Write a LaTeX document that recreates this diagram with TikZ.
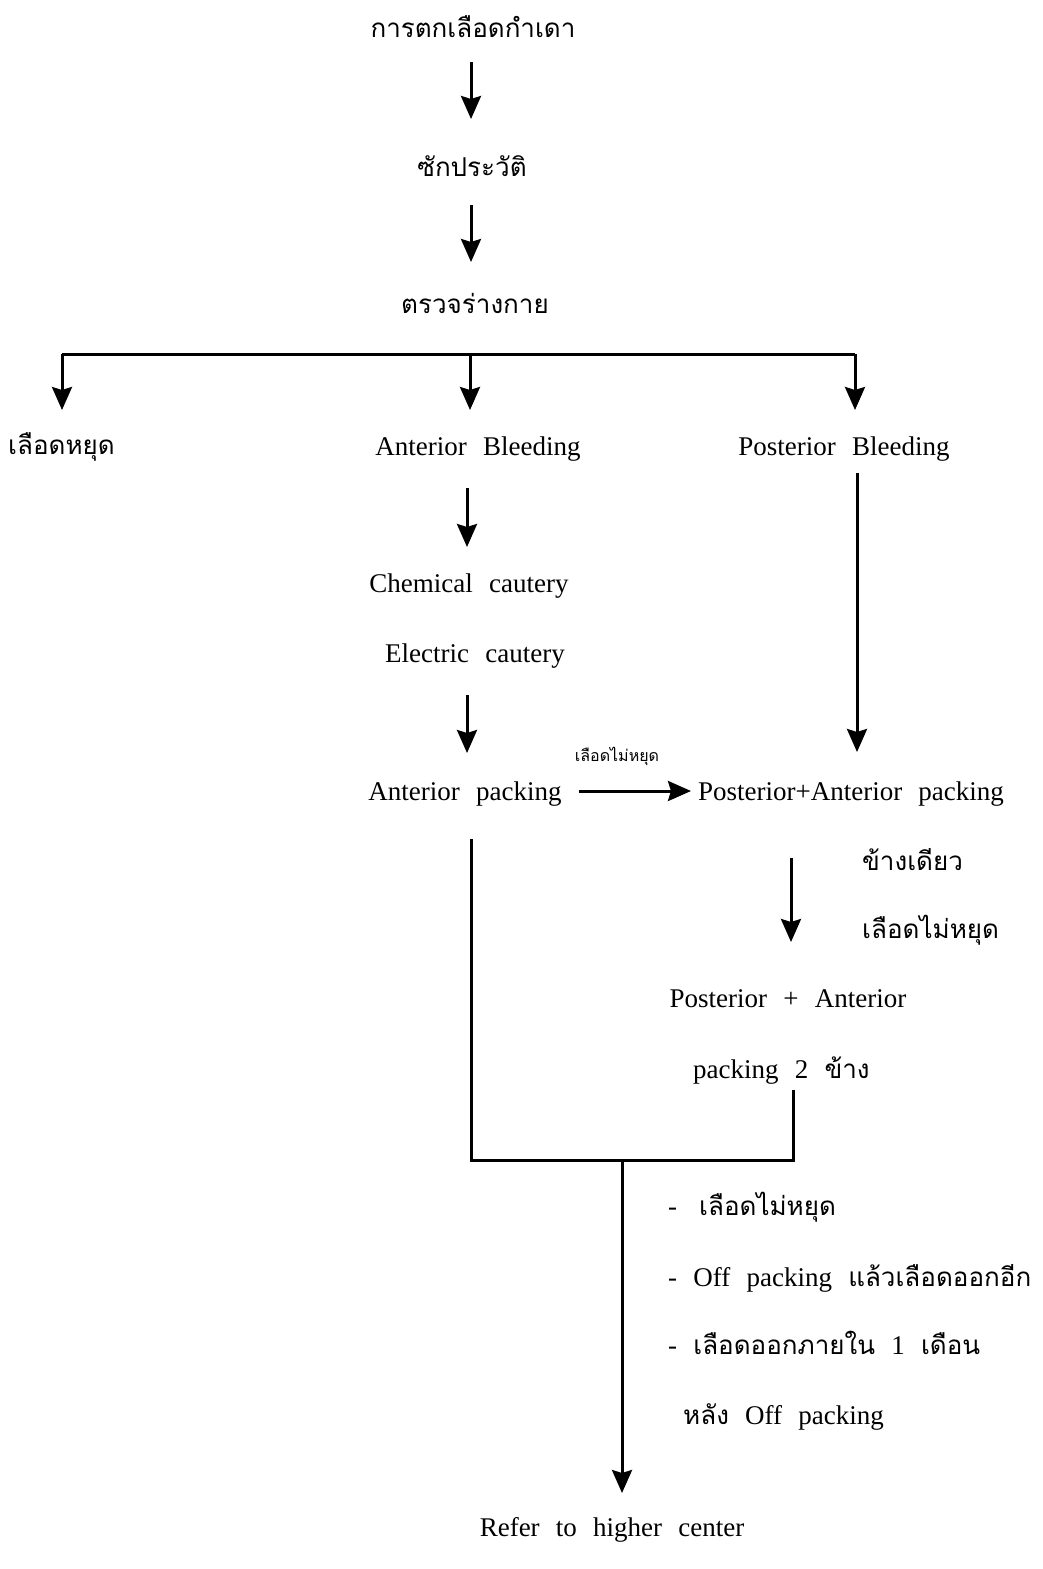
\documentclass[tikz,border=0pt]{standalone}
\usepackage{fontspec}
\setmainfont{Liberation Serif}[WordSpace=2.4]
\newfontfamily\thaifont[Script=Thai]{Loma}
\usetikzlibrary{arrows.meta}
\newcommand\thx[1]{{\thaifont\fontsize{26}{32}\selectfont #1}}
\tikzset{
  lat/.style={inner sep=0pt, font=\fontsize{27}{32}\selectfont},
  th/.style={inner sep=0pt, font=\thaifont\fontsize{26}{32}\selectfont},
  thsmall/.style={inner sep=0pt, font=\thaifont\fontsize{16}{20}\selectfont},
  ln/.style={line width=3pt},
  arr/.style={line width=3pt, -{Stealth[length=23pt,width=20pt,inset=3pt]}},
}
\begin{document}
\begin{tikzpicture}[x=1pt,y=-1pt]
\useasboundingbox (0,0) rectangle (1042,1569);
% text nodes
\node[th, anchor=base] (t1) at (473,37) {การตกเลือดกำเดา};
\node[th, anchor=base] (t2) at (472,176) {ซักประวัติ};
\node[th, anchor=base] (t3) at (475,313) {ตรวจร่างกาย};
\node[th, anchor=base west] (stop) at (8,454) {เลือดหยุด};
\node[lat, anchor=base] (ab) at (478,455) {Anterior Bleeding};
\node[lat, anchor=base] (pb) at (844,455) {Posterior Bleeding};
\node[lat, anchor=base] (cc) at (469,592) {Chemical cautery};
\node[lat, anchor=base] (ec) at (475,662) {Electric cautery};
\node[lat, anchor=base] (ap) at (465,800) {Anterior packing};
\node[lat, anchor=base] (pap) at (851,800) {Posterior+Anterior packing};
\node[thsmall, anchor=base] (nl1) at (617,761) {เลือดไม่หยุด};
\node[th, anchor=base west] (one) at (862,870) {ข้างเดียว};
\node[th, anchor=base west] (nl2) at (862,938) {เลือดไม่หยุด};
\node[lat, anchor=base] (pa2a) at (788,1007) {Posterior + Anterior};
\node[lat, anchor=base west] (pa2b) at (693,1078) {packing 2 \thx{ข้าง}};
\node[lat, anchor=base west] (c1) at (668,1215) {-\hspace{22pt}\thx{เลือดไม่หยุด}};
\node[lat, anchor=base west] (c2) at (668,1286) {- Off packing \thx{แล้วเลือดออกอีก}};
\node[lat, anchor=base west] (c3) at (668,1354) {- \thx{เลือดออกภายใน} 1 \thx{เดือน}};
\node[lat, anchor=base west] (c4) at (683,1424) {\thx{หลัง} Off packing};
\node[lat, anchor=base] (ref) at (612,1536) {Refer to higher center};
% connector points
\coordinate (a1) at (471,62);
\coordinate (a2) at (471,205);
\coordinate (bl) at (62,354);
\coordinate (bm) at (470,354);
\coordinate (br) at (855,354);
\coordinate (a3) at (467,488);
\coordinate (a4) at (467,695);
\coordinate (h1) at (579,791);
\coordinate (pv) at (857,473);
\coordinate (a5) at (791,858);
\coordinate (ml) at (471,839);
\coordinate (mr) at (793,1090);
\coordinate (mj) at (622,1160);
% connectors
\draw[arr] (a1) -- ++(0,57);
\draw[arr] (a2) -- ++(0,57);
\draw[ln] (bl) -- (br);
\draw[arr] (bl) -- ++(0,56);
\draw[arr] (bm) -- ++(0,56);
\draw[arr] (br) -- ++(0,56);
\draw[arr] (a3) -- ++(0,59);
\draw[arr] (a4) -- ++(0,58);
\draw[arr] (pv) -- ++(0,279);
\draw[arr] (h1) -- ++(112,0);
\draw[arr] (a5) -- ++(0,84);
\draw[ln] (ml) |- (mj) -| (mr);
\draw[arr] (mj) -- ++(0,333);
\end{tikzpicture}
\end{document}
